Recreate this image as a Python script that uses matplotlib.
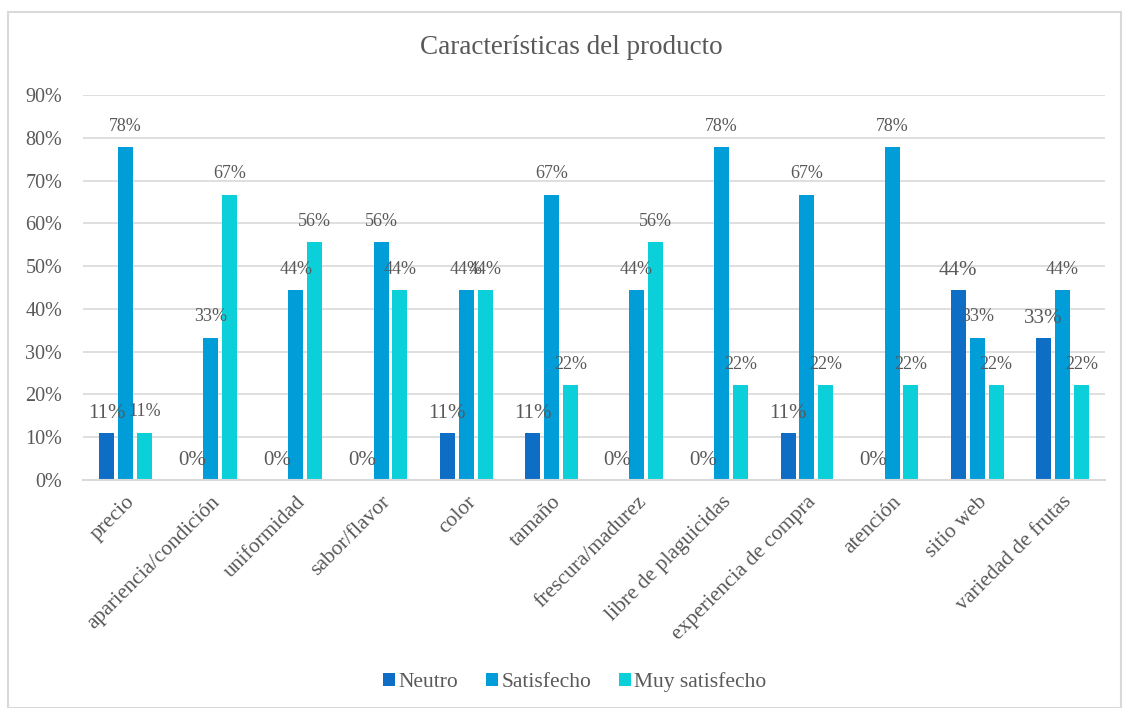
import matplotlib
matplotlib.use("Agg")
import matplotlib.pyplot as plt
import numpy as np
from matplotlib.patches import Rectangle

plt.rcParams['font.family'] = ['Liberation Serif', 'DejaVu Serif']

categories = ["precio", "apariencia/condición", "uniformidad", "sabor/flavor", "color",
              "tamaño", "frescura/madurez", "libre de plaguicidas", "experiencia de compra",
              "atención", "sitio web", "variedad de frutas"]
neutro = [0.111, 0, 0, 0, 0.111, 0.111, 0, 0, 0.111, 0, 0.444, 0.333]
satisfecho = [0.778, 0.333, 0.444, 0.556, 0.444, 0.667, 0.444, 0.778, 0.667, 0.778, 0.333, 0.444]
muy_satisfecho = [0.111, 0.667, 0.556, 0.444, 0.444, 0.222, 0.556, 0.222, 0.222, 0.222, 0.222, 0.222]
series_names = ["Neutro", "Satisfecho", "Muy satisfecho"]
colors = ["#0E6EC6", "#009DD9", "#0BD0D9"]
yticks = [0, 0.1, 0.2, 0.3, 0.4, 0.5, 0.6, 0.7, 0.8, 0.9]

text_color = "#595959"
grid_color = "#D9D9D9"

fig = plt.figure(figsize=(11.26, 7.08), dpi=100)
ax = fig.add_axes([83/1126, 1-480/708, (1105-83)/1126, (480-95)/708])

x = np.arange(len(categories))
w = 0.176
step = 0.222
label_sizes = [15, 13, 13]
for i, (vals, name, c) in enumerate(zip([neutro, satisfecho, muy_satisfecho], series_names, colors)):
    pos = x + (i - 1) * step
    ax.bar(pos, vals, width=w, color=c, label=name, zorder=3)
    for p, v in zip(pos, vals):
        ax.annotate(f"{round(v*100):.0f}%", (p, v), xytext=(0, 14 if i == 0 else 15),
                    textcoords="offset points", ha="center", va="center",
                    fontsize=label_sizes[i], color=text_color, zorder=4)

ax.set_xlim(-0.5, len(categories) - 0.5)
ax.set_ylim(0, 0.9)
ax.set_yticks(yticks)
ax.set_yticklabels([f"{round(t*100)}%" for t in yticks], fontsize=14.5, color=text_color)
ax.set_xticks(x)
ax.set_xticklabels(categories, rotation=45, ha="right", rotation_mode="anchor",
                   fontsize=15.5, color=text_color)
ax.tick_params(axis="both", length=0)
ax.tick_params(axis="x", pad=9)
ax.tick_params(axis="y", pad=15)
ax.grid(axis="y", color=grid_color, linewidth=1.2, zorder=0)
for s in ["top", "right", "left"]:
    ax.spines[s].set_visible(False)
ax.spines["bottom"].set_color(grid_color)
ax.spines["bottom"].set_linewidth(1.5)
ax.spines["bottom"].set_zorder(5)

fig.text(571/1126, 1-48/708, "Características del producto", ha="center", va="center",
         fontsize=19.5, color=text_color)

fig.legend(loc="center", bbox_to_anchor=(575/1126, 1-682/708), ncol=3, frameon=False,
           fontsize=15.5, handlelength=0.55, handleheight=0.55, handletextpad=0.15,
           columnspacing=1.3, labelcolor=text_color)

fig.patches.append(Rectangle((8/1126, 0), (1121-8)/1126, 1-12/708, transform=fig.transFigure,
                             fill=False, edgecolor=grid_color, linewidth=1.5))

fig.savefig("out.png", dpi=100)
